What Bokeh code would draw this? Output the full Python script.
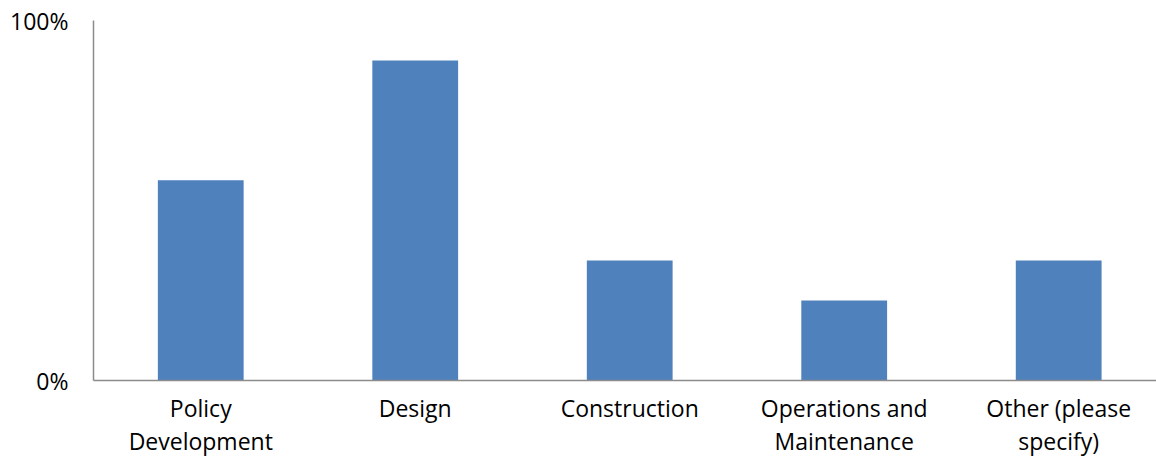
from bokeh.plotting import figure
from bokeh.models import Range1d, FixedTicker, ColumnDataSource
from bokeh.embed import file_html
from bokeh.resources import INLINE

# Survey responses: share of respondents per project phase
categories = ["Policy\nDevelopment", "Design", "Construction",
              "Operations and\nMaintenance", "Other (please\nspecify)"]
shares = [55.6, 88.9, 33.3, 22.2, 33.3]
y_ticks = [0, 100]
y_tick_labels = ["0%", "100%"]

FONT = "Open Sans"
AXIS_GREY = "#8c8c8c"
BAR_BLUE = "#4f81bd"

positions = [i + 0.5 for i in range(len(categories))]
source = ColumnDataSource(dict(x=positions, top=shares))

p = figure(width=1156, height=460, output_backend="svg", toolbar_location=None,
           x_range=Range1d(0, 4.956), y_range=Range1d(0, 100))
p.min_border_left = 93
p.min_border_right = 0
p.min_border_top = 20
p.min_border_bottom = 80
p.outline_line_color = None
p.background_fill_color = "white"
p.border_fill_color = "white"

p.vbar(x="x", top="top", bottom=0, width=0.4, source=source,
       fill_color=BAR_BLUE, line_color=None)

# y axis: only 0% and 100%
p.yaxis.ticker = FixedTicker(ticks=y_ticks)
p.yaxis.major_label_overrides = {t: l for t, l in zip(y_ticks, y_tick_labels)}
p.yaxis.major_tick_out = 0
p.yaxis.major_tick_in = 0
p.yaxis.minor_tick_out = 0
p.yaxis.minor_tick_in = 0
p.yaxis.major_label_standoff = 25
p.yaxis.major_label_text_font = FONT
p.yaxis.major_label_text_font_size = "23px"
p.yaxis.major_label_text_color = "black"
p.yaxis.axis_line_color = AXIS_GREY
p.yaxis.axis_line_width = 1.5

# x axis: category names as (multi-line) tick labels, no tick marks
p.xaxis.ticker = FixedTicker(ticks=positions)
p.xaxis.major_label_overrides = {x: c for x, c in zip(positions, categories)}
p.xaxis.major_tick_out = 0
p.xaxis.major_tick_in = 0
p.xaxis.minor_tick_out = 0
p.xaxis.minor_tick_in = 0
p.xaxis.major_label_standoff = 11
p.xaxis.major_label_text_font = FONT
p.xaxis.major_label_text_font_size = "23px"
p.xaxis.major_label_text_color = "black"
p.xaxis.major_label_text_line_height = 1.05
p.xaxis.axis_line_color = AXIS_GREY
p.xaxis.axis_line_width = 1.5

# only the 100% gridline
p.xgrid.visible = False
p.ygrid.ticker = FixedTicker(ticks=[100])
p.ygrid.grid_line_color = AXIS_GREY
p.ygrid.grid_line_width = 1.5

open("out.html", "w").write(file_html(p, INLINE))
